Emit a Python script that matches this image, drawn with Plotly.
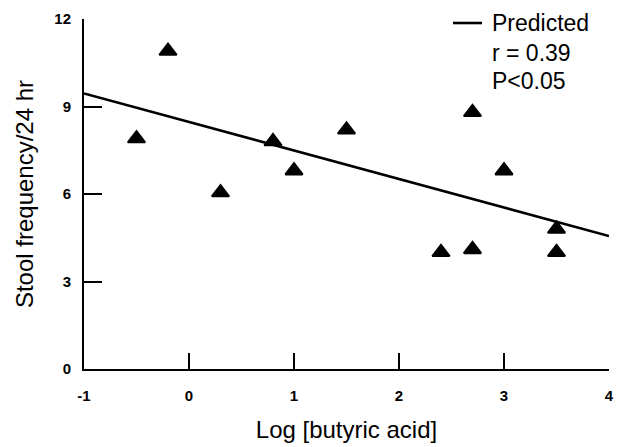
import plotly.graph_objects as go

# Observed data (log butyric acid vs stool frequency)
log_butyric = [-0.5, -0.2, 0.3, 0.8, 1.0, 1.5, 2.4, 2.7, 2.7, 3.0, 3.5, 3.5]
stool_freq = [7.9, 10.9, 6.05, 7.8, 6.8, 8.2, 4.0, 4.1, 8.8, 6.8, 4.8, 4.0]

# Predicted regression line
pred_x = [-1, 4]
pred_y = [9.45, 4.56]

x_ticks = [-1, 0, 1, 2, 3, 4]
y_ticks = [0, 3, 6, 9, 12]

font_family = "Liberation Sans, Arial, Helvetica, sans-serif"

L, R, T, B = 84, 9, 19, 78
W, H = 618, 447
PW, PH = W - L - R, H - T - B


def px_x(p):
    return (p - L) / PW


def px_y(p):
    return (H - B - p) / PH


fig = go.Figure()
fig.add_trace(go.Scatter(
    x=pred_x, y=pred_y, mode="lines", name="Predicted",
    line=dict(color="black", width=2.6), showlegend=False, cliponaxis=False,
))
fig.add_trace(go.Scatter(
    x=log_butyric, y=stool_freq, mode="markers", name="Observed",
    marker=dict(symbol="triangle-up", size=15, color="black",
                line=dict(color="black", width=2)),
    showlegend=False, cliponaxis=False,
))

# Legend-like text block
fig.add_shape(type="line", xref="paper", yref="paper",
              x0=px_x(453), x1=px_x(482), y0=px_y(23), y1=px_y(23),
              line=dict(color="black", width=2.6))
for txt, yy in [("Predicted", 23), ("r = 0.39", 53), ("P<0.05", 81)]:
    fig.add_annotation(xref="paper", yref="paper", x=px_x(490), y=px_y(yy),
                       text=txt, showarrow=False, xanchor="left", yanchor="middle",
                       font=dict(family=font_family, size=23, color="black"))

fig.update_layout(
    width=W, height=H,
    margin=dict(l=L, r=R, t=T, b=B),
    paper_bgcolor="white", plot_bgcolor="white",
    font=dict(family=font_family, color="black"),
    xaxis=dict(
        range=[-1, 4], tickvals=x_ticks, ticktext=[str(v) for v in x_ticks],
        showgrid=False, zeroline=False, showline=True, linecolor="black", linewidth=2,
        ticks="inside", ticklen=16, tickwidth=1.7, tickcolor="black",
        ticklabelstandoff=12, automargin=False,
        tickfont=dict(family=font_family, size=15, color="black", weight="bold"),
        title=dict(text="Log [butyric acid]", standoff=18,
                   font=dict(family=font_family, size=24, color="black")),
    ),
    yaxis=dict(
        range=[0, 12], tickvals=y_ticks, ticktext=[str(v) for v in y_ticks],
        showgrid=False, zeroline=False, showline=True, linecolor="black", linewidth=2,
        ticks="inside", ticklen=18, tickwidth=1.7, tickcolor="black",
        ticklabelstandoff=8, automargin=False,
        tickfont=dict(family=font_family, size=15, color="black", weight="bold"),
        title=dict(text="Stool frequency/24 hr", standoff=14,
                   font=dict(family=font_family, size=24, color="black")),
    ),
)

fig.write_html("out.html")
